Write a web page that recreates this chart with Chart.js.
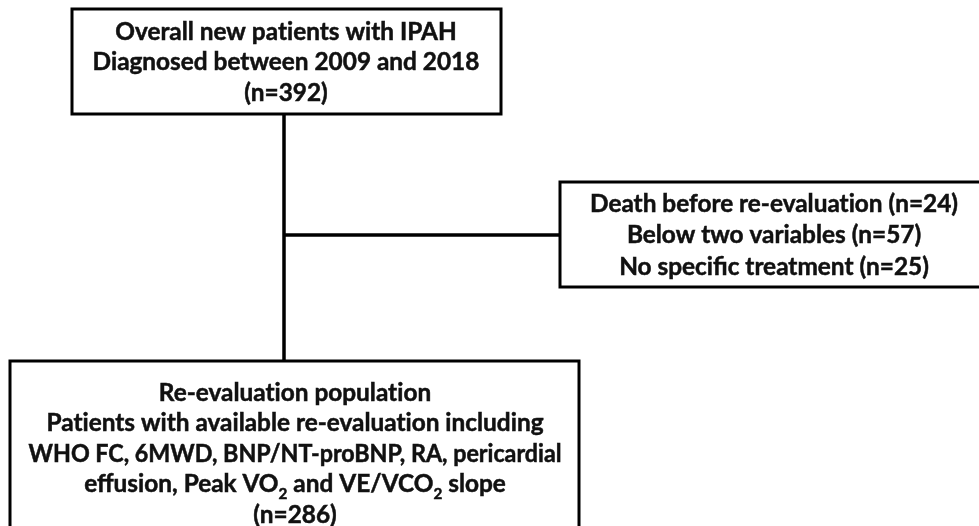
<!DOCTYPE html>
<html>
<head>
<meta charset="utf-8">
<script src="https://cdn.jsdelivr.net/npm/chart.js@4.4.1/dist/chart.umd.min.js"></script>
<style>
  html, body { margin: 0; padding: 0; background: #fff; }
  #wrap { width: 979px; height: 526px; }
</style>
</head>
<body>
<div id="wrap"><canvas id="flow" width="979" height="526"></canvas></div>
<script>
// ===== DATA =====
const startLines = ['Overall new patients with IPAH', 'Diagnosed between 2009 and 2018'];
const startN = 392;
const excludedReasons = ['Death before re-evaluation', 'Below two variables', 'No specific treatment'];
const excludedN = [24, 57, 25];
const finalLines = [
  'Re-evaluation population',
  'Patients with available re-evaluation including',
  'WHO FC, 6MWD, BNP/NT-proBNP, RA, pericardial',
  'effusion, Peak VO_2 and VE/VCO_2 slope'
];
const finalN = 286;

// ===== LAYOUT (scale units, 1 unit = 1px) =====
// the exclusion box and the final box run past the picture's edge
const layout = {
  start: { x0: 72, x1: 501, y0: 9, y1: 114, cx: 286, y: 31, gap: 30.5 },
  excl:  { x0: 560, x1: 988, y0: 182, y1: 287, cx: 774, y: 203, gap: 31.5 },
  final: { x0: 10, x1: 579, y0: 361, y1: 560, cx: 295, y: 392, gap: 30.5 },
  trunkX: 284,
  branchY: 235
};

const FONT = 'Lato, "Open Sans", sans-serif';
const FONT_SIZE = 24;
const TEXT_PAD = 18;
const INK = '#111';

const boxes = [
  { box: layout.start, lines: [...startLines, `(n=${startN})`] },
  { box: layout.excl, lines: excludedReasons.map((r, i) => `${r} (n=${excludedN[i]})`) },
  { box: layout.final, lines: [...finalLines, `(n=${finalN})`] }
];

// split "VO_2" into normal + subscript parts; break the "ti" ligature
function parts(text) {
  return text.replace(/ti/g, 't\u200Ci').split(/(_\d)/).filter(s => s).map(s =>
    s[0] === '_' ? { t: s.slice(1), sub: true } : { t: s, sub: false });
}

function drawRich(ctx, text, cx, baseline, size, sx, maxW) {
  const segs = parts(text);
  const subSize = Math.round(size * 0.62);
  let total = 0;
  segs.forEach(s => {
    ctx.font = `700 ${s.sub ? subSize : size}px ${FONT}`;
    s.w = ctx.measureText(s.t).width;
    total += s.w;
  });
  const k = Math.min(sx, maxW / total);
  ctx.save();
  ctx.translate(cx, baseline);
  ctx.scale(k, 1);
  let x = -total / 2;
  segs.forEach(s => {
    ctx.font = `700 ${s.sub ? subSize : size}px ${FONT}`;
    const dy = s.sub ? size * 0.28 : 0;
    ctx.fillText(s.t, x, dy);
    ctx.strokeText(s.t, x, dy);
    x += s.w;
  });
  ctx.restore();
}

const flowPlugin = {
  id: 'flowBoxes',
  afterDatasetsDraw(chart) {
    const { ctx, scales: { x, y } } = chart;
    const { fontSize, squeeze } = chart.options.plugins.flowBoxes;
    ctx.save();
    boxes.forEach(({ box, lines }) => {
      const px0 = x.getPixelForValue(box.x0), px1 = x.getPixelForValue(box.x1);
      const py0 = y.getPixelForValue(box.y0), py1 = y.getPixelForValue(box.y1);
      ctx.fillStyle = '#fff';
      ctx.strokeStyle = '#000';
      ctx.lineWidth = 3;
      ctx.fillRect(px0, py0, px1 - px0, py1 - py0);
      ctx.strokeRect(px0, py0, px1 - px0, py1 - py0);
      ctx.fillStyle = INK;
      ctx.strokeStyle = INK;
      ctx.lineWidth = 0.5;
      ctx.textAlign = 'left';
      ctx.textBaseline = 'alphabetic';
      const maxW = Math.min(px1, chart.width) - px0 - 2 * TEXT_PAD;
      lines.forEach((ln, i) => {
        const cy = y.getPixelForValue(box.y + i * box.gap);
        drawRich(ctx, ln, x.getPixelForValue(box.cx), cy + fontSize * 0.36, fontSize, squeeze, maxW);
      });
    });
    ctx.restore();
  }
};

// Calibri is narrower than Lato: squeeze horizontally so the first
// exclusion line is as wide as in the original (~368px)
function fitSqueeze() {
  const c = document.createElement('canvas').getContext('2d');
  c.font = `700 ${FONT_SIZE}px ${FONT}`;
  const w = c.measureText(`${excludedReasons[0]} (n=${excludedN[0]})`.replace(/ti/g, 't\u200Ci')).width;
  return 368 / w;
}

function draw() {
  const ctx = document.getElementById('flow').getContext('2d');
  new Chart(ctx, {
    type: 'scatter',
    data: {
      datasets: [
        { data: [{ x: layout.trunkX, y: layout.start.y1 }, { x: layout.trunkX, y: layout.final.y0 }] },
        { data: [{ x: layout.trunkX, y: layout.branchY }, { x: layout.excl.x0, y: layout.branchY }] }
      ].map(d => ({ ...d, showLine: true, pointRadius: 0, borderColor: '#000', borderWidth: 3.5 }))
    },
    options: {
      responsive: false,
      animation: false,
      events: [],
      layout: { padding: 0 },
      plugins: {
        legend: { display: false },
        tooltip: { enabled: false },
        flowBoxes: { fontSize: FONT_SIZE, squeeze: fitSqueeze() }
      },
      scales: {
        x: { type: 'linear', display: false, min: 0, max: 979 },
        y: { type: 'linear', display: false, min: 0, max: 526, reverse: true }
      }
    },
    plugins: [flowPlugin]
  });
}

document.fonts.load(`700 24px Lato`).then(draw, draw);
</script>
</body>
</html>
